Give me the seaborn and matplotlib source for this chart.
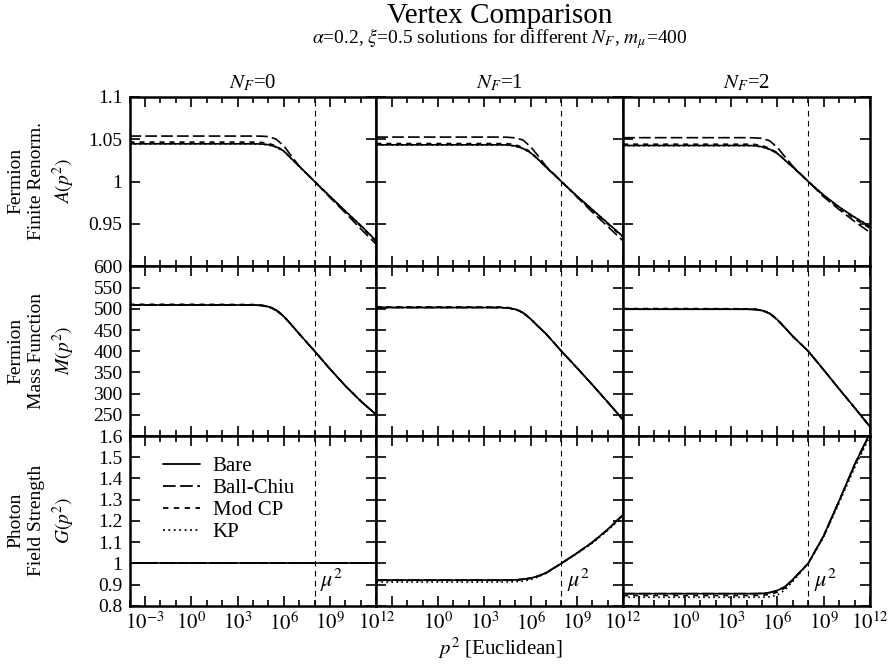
import matplotlib.pyplot as plt
from matplotlib.lines import Line2D
from matplotlib.ticker import NullFormatter
import numpy as np
import pandas as pd
import seaborn as sns

# log10(p^2) sample points
log_p2 = [-4, 0, 4, 4.5, 5, 5.5, 6, 6.5, 7, 8, 9, 10, 11, 12]

vertices = ['Bare', 'Ball-Chiu', 'Mod CP', 'KP']
n_flavours = [0, 1, 2]

# A(p^2)
a0_bare = [1.0445, 1.0445, 1.0445, 1.0443, 1.0435, 1.041, 1.036, 1.027, 1.018, 1.000, 0.9825, 0.965, 0.948, 0.930]
a0_bc = [1.0536, 1.0536, 1.0536, 1.0535, 1.053, 1.050, 1.042, 1.030, 1.018, 1.000, 0.981, 0.963, 0.944, 0.926]
a0_modcp = [1.0465, 1.0465, 1.0465, 1.0462, 1.045, 1.042, 1.036, 1.027, 1.018, 1.000, 0.982, 0.964, 0.947, 0.929]
a0_kp = [1.0443, 1.0443, 1.0443, 1.044, 1.043, 1.0405, 1.0355, 1.0265, 1.0175, 1.000, 0.9825, 0.965, 0.948, 0.930]

a1_bare = [1.0433, 1.0433, 1.0433, 1.0431, 1.042, 1.039, 1.034, 1.026, 1.017, 1.000, 0.983, 0.967, 0.951, 0.935]
a1_bc = [1.0524, 1.0524, 1.0524, 1.0522, 1.0515, 1.049, 1.041, 1.030, 1.018, 1.000, 0.982, 0.964, 0.947, 0.930]
a1_modcp = [1.0448, 1.0448, 1.0448, 1.0446, 1.0435, 1.040, 1.035, 1.026, 1.017, 1.000, 0.982, 0.966, 0.950, 0.934]
a1_kp = [1.0430, 1.0430, 1.0430, 1.0428, 1.0417, 1.0387, 1.0337, 1.0258, 1.017, 1.000, 0.983, 0.967, 0.951, 0.935]

a2_bare = [1.0425, 1.0425, 1.0425, 1.0423, 1.041, 1.038, 1.033, 1.025, 1.017, 1.000, 0.984, 0.970, 0.958, 0.947]
a2_bc = [1.0517, 1.0517, 1.0517, 1.0515, 1.051, 1.048, 1.040, 1.029, 1.018, 1.000, 0.982, 0.967, 0.953, 0.940]
a2_modcp = [1.0440, 1.0440, 1.0440, 1.0438, 1.0425, 1.039, 1.034, 1.025, 1.017, 1.000, 0.983, 0.969, 0.956, 0.945]
a2_kp = [1.0422, 1.0422, 1.0422, 1.0420, 1.0408, 1.0378, 1.033, 1.025, 1.017, 1.000, 0.984, 0.970, 0.958, 0.947]

# M(p^2)
m0_bare = [509, 509, 509, 508, 505, 497, 482, 462, 441, 400, 358, 318, 282, 250]
m0_modcp = [510.5, 510.5, 510, 509, 506, 498, 483, 462, 441, 400, 358, 318, 282, 250]
m0_kp = [509, 509, 509, 508, 504.5, 496.5, 482, 462, 441, 400, 358, 318, 282, 250]

m1_bare = [503, 503, 503, 502, 499, 491, 476, 458, 441, 400, 361, 321, 280, 238]
m1_modcp = [504.5, 504.5, 504, 503, 500, 492, 477, 458, 441, 400, 361, 321, 280, 238]
m1_kp = [503, 503, 503, 502, 498.5, 490.5, 476, 458, 441, 400, 361, 321, 280, 238]

m2_bare = [499, 499, 499, 498.5, 496, 489, 474, 455, 435, 400, 356, 311, 267, 222]
m2_modcp = [500.5, 500.5, 500, 499.5, 497, 490, 475, 455, 435, 400, 356, 311, 267, 222]
m2_kp = [499, 499, 499, 498.5, 495.5, 488.5, 474, 455, 435, 400, 356, 311, 267, 222]

# G(p^2)
g0_all = [1.0, 1.0, 1.0, 1.0, 1.0, 1.0, 1.0, 1.0, 1.0, 1.0, 1.0, 1.0, 1.0, 1.0]

g1_bare = [0.921, 0.921, 0.921, 0.9212, 0.922, 0.925, 0.930, 0.940, 0.955, 1.000, 1.048, 1.099, 1.160, 1.230]
g1_modcp = [0.919, 0.919, 0.919, 0.9195, 0.920, 0.923, 0.929, 0.939, 0.954, 1.000, 1.047, 1.098, 1.158, 1.228]
g1_kp = [0.9115, 0.9115, 0.9115, 0.912, 0.913, 0.916, 0.923, 0.936, 0.953, 1.000, 1.046, 1.095, 1.155, 1.222]

g2_bare = [0.857, 0.857, 0.857, 0.857, 0.858, 0.862, 0.872, 0.890, 0.924, 1.000, 1.130, 1.295, 1.465, 1.615]
g2_modcp = [0.848, 0.848, 0.848, 0.848, 0.849, 0.853, 0.864, 0.884, 0.921, 1.000, 1.128, 1.292, 1.460, 1.610]
g2_kp = [0.840, 0.840, 0.840, 0.840, 0.840, 0.842, 0.850, 0.875, 0.915, 1.000, 1.124, 1.285, 1.450, 1.600]

curves = {
    ('A', 0): [a0_bare, a0_bc, a0_modcp, a0_kp],
    ('A', 1): [a1_bare, a1_bc, a1_modcp, a1_kp],
    ('A', 2): [a2_bare, a2_bc, a2_modcp, a2_kp],
    ('M', 0): [m0_bare, m0_bare, m0_modcp, m0_kp],
    ('M', 1): [m1_bare, m1_bare, m1_modcp, m1_kp],
    ('M', 2): [m2_bare, m2_bare, m2_modcp, m2_kp],
    ('G', 0): [g0_all, g0_all, g0_all, g0_all],
    ('G', 1): [g1_bare, g1_bare, g1_modcp, g1_kp],
    ('G', 2): [g2_bare, g2_bare, g2_modcp, g2_kp],
}

quantities = ['A', 'M', 'G']
row_labels = ['Fermion\nFinite Renorm.\n$A(p^2)$',
              'Fermion\nMass Function\n$M(p^2)$',
              'Photon\nField Strength\n$G(p^2)$']
row_limits = [(0.9, 1.1), (200, 600), (0.8, 1.6)]
row_ticks = [[0.95, 1, 1.05, 1.1],
             [250, 300, 350, 400, 450, 500, 550, 600],
             [0.8, 0.9, 1, 1.1, 1.2, 1.3, 1.4, 1.5, 1.6]]
row_ticklabels = [['0.95', '1', '1.05', '1.1'],
                  ['250', '300', '350', '400', '450', '500', '550', '600'],
                  ['0.8', '0.9', '1', '1.1', '1.2', '1.3', '1.4', '1.5', '1.6']]

x_major = [1e-3, 1e0, 1e3, 1e6, 1e9, 1e12]
x_major_labels = [r'$10^{-3}$', r'$10^{0}$', r'$10^{3}$', r'$10^{6}$', r'$10^{9}$', r'$10^{12}$']
mu2 = 1e8

rows = []
for (q, nf), series in curves.items():
    for vertex, vals in zip(vertices, series):
        for lp, v in zip(log_p2, vals):
            rows.append({'quantity': q, 'nf': nf, 'vertex': vertex, 'p2': 10.0 ** lp, 'value': v})
df = pd.DataFrame(rows)

dashes = {'Bare': '', 'Ball-Chiu': (7, 2.5), 'Mod CP': (3, 3), 'KP': (1, 2)}

sns.set_style('ticks')
plt.rcParams['font.family'] = ['Liberation Serif', 'DejaVu Serif']
plt.rcParams['mathtext.fontset'] = 'stix'
plt.rcParams.update({'axes.edgecolor': 'black', 'xtick.color': 'black', 'ytick.color': 'black',
                     'text.color': 'black', 'axes.labelcolor': 'black'})

fig, axes = plt.subplots(3, 3, figsize=(8.89, 6.66), dpi=100)
fig.subplots_adjust(left=0.1457, right=0.9786, top=0.8548, bottom=0.0905, wspace=0, hspace=0)

for i, q in enumerate(quantities):
    for j, nf in enumerate(n_flavours):
        ax = axes[i, j]
        ax.set_xscale('log')
        sub = df[(df.quantity == q) & (df.nf == nf)]
        sns.lineplot(data=sub, x='p2', y='value', style='vertex', style_order=vertices,
                     dashes=dashes, color='black', lw=1.2, estimator=None,
                     sort=True, legend=False, ax=ax)
        ax.axvline(mu2, color='black', lw=0.8, ls=(0, (5, 4)))
        ax.set(xlabel='', ylabel='')
        ax.set_xlim(1e-4, 1e12)
        ax.set_ylim(*row_limits[i])
        ax.set_yticks(row_ticks[i])
        ax.set_yticklabels(row_ticklabels[i], fontsize=14)
        ax.set_xticks(x_major)
        ax.set_xticks([10.0 ** k for k in range(-4, 13)], minor=True)
        ax.xaxis.set_minor_formatter(NullFormatter())
        if i == 2:
            labels = list(x_major_labels)
            if j > 0:
                labels[0] = ''
            ax.set_xticklabels(labels, fontsize=15)
            ax.text(2.2e8, 0.889, r'$\mu^2$', fontsize=16, ha='left', va='baseline')
        else:
            ax.tick_params(labelbottom=False)
        if j > 0:
            ax.tick_params(labelleft=False)
        ax.tick_params(which='both', direction='in', top=True, right=True, width=1.2, pad=5)
        ax.tick_params(which='major', length=7)
        ax.tick_params(which='minor', length=4)
        for s in ax.spines.values():
            s.set_linewidth(1.8)
            s.set_color('black')
        if i == 0:
            ax.set_title(r'$N_F$=%d' % nf, fontsize=15, pad=6)

row_centres = [0.728, 0.4734, 0.2182]
for lab, yc in zip(row_labels, row_centres):
    fig.text(42 / 889, yc, lab, rotation=90, ha='center', va='center',
             fontsize=14, multialignment='center', linespacing=1.3)

handles = [Line2D([], [], color='black', lw=1.3,
                  linestyle=(0, dashes[v]) if dashes[v] else '-') for v in vertices]
axes[2, 0].legend(handles, vertices, loc='upper left', bbox_to_anchor=(0.1, 0.93),
                  frameon=False, fontsize=15, handlelength=1.8, handletextpad=0.6,
                  labelspacing=0.12, borderaxespad=0)

fig.text(500 / 889, 1 - 16 / 666, 'Vertex Comparison', ha='center', va='center', fontsize=21)
fig.text(500 / 889, 1 - 39 / 666,
         r'$\alpha$=0.2, $\xi$=0.5 solutions for different $N_F$, $m_\mu$=400',
         ha='center', va='center', fontsize=14)
fig.text(500 / 889, 1 - 648 / 666, r'$p^2$ [Euclidean]', ha='center', va='center', fontsize=15)

fig.savefig('out.png', dpi=100)
